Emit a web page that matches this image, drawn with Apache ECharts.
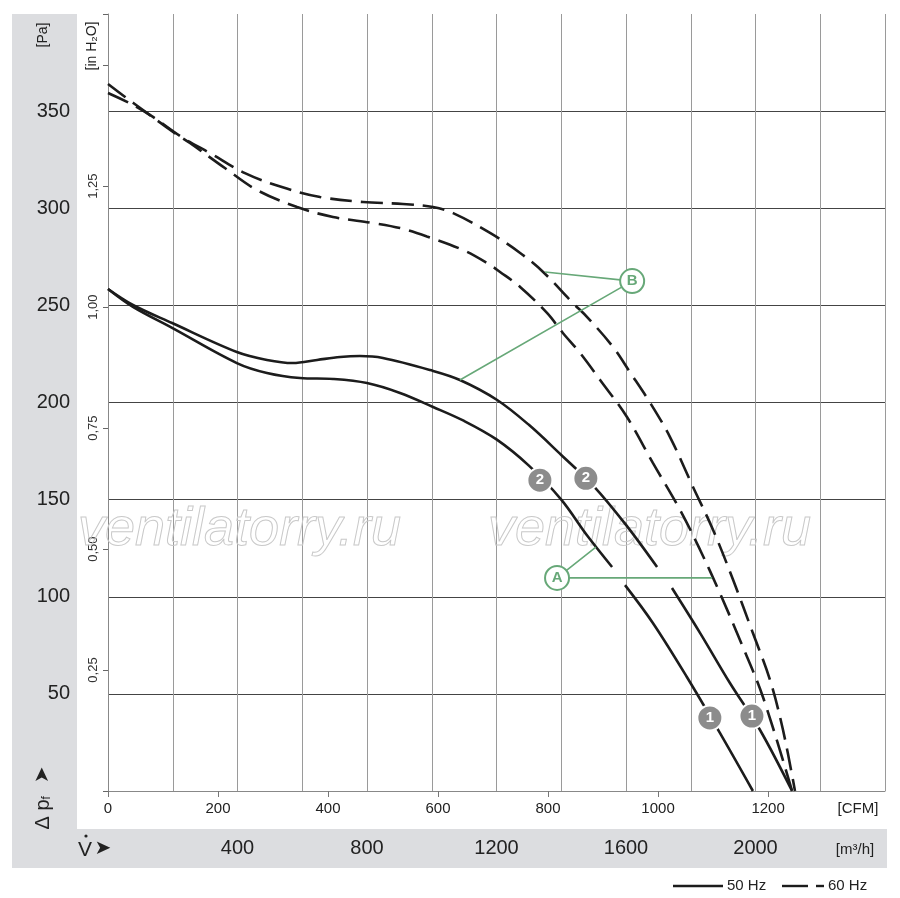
<!DOCTYPE html>
<html>
<head>
<meta charset="utf-8">
<title>Fan curve</title>
<script src="https://cdn.jsdelivr.net/npm/echarts@6/dist/echarts.min.js"></script>
<style>body{margin:0;background:#fff}</style>
</head>
<body>
<div id="main" style="width:900px;height:898px;"></div>
<script>
// flow [m3/h], pressure [Pa]; null = break in the curve
const solid50Upper = [[0,258.4],[77,250.2],[198,240.9],[398,226],[491,221.9],[571,220.3],[646,221.9],[717,223.4],[778,223.9],[849,222.9],[995,216.7],[1087,211.6],[1202,201.3],[1300,188.5],[1400,173],[1500,157],[1600,137],[1696,115.3],null,[1742,104.5],[1829,81.3],[1921,55.6],[2014,31.4],[2113,0]];
const solid50Lower = [[0,258.4],[77,249.2],[198,238.4],[398,220.3],[491,215.2],[593,212.6],[695,212.1],[800,210],[902,204.9],[1004,197.7],[1100,190.5],[1200,181],[1300,167.5],[1400,150],[1480,131.5],[1557,115.3],null,[1597,106],[1683,86.5],[1788,58.7],[1890,29.9],[1992,0]];
const dash60Outer = [[0,359.3],[77,353.2],[139,347],[232,336.2],[315,328.4],[423,318.1],[537,310.9],[655,305.8],[788,303.2],[911,302.2],[1004,300.6],[1066,297.5],[1180,287.3],[1273,277],[1344,267.2],[1436,251.2],[1480,244],[1560,228.6],[1612,215.7],[1674,200],[1736,182.2],[1807,156.5],[1869,134.4],[1931,108.6],[1992,81.3],[2045,57.1],[2085,31.4],[2122,0]];
const dash60Inner = [[0,364],[53,357.3],[108,350.6],[201,339.3],[253,333.6],[361,320.7],[460,309.4],[584,300.6],[695,295.5],[819,292.4],[902,289.8],[985,285.5],[1097,278.5],[1171,271.8],[1211,267.2],[1273,259.5],[1356,246.1],[1405,235.8],[1458,225.5],[1520,211.6],[1603,192.5],[1683,168.9],[1767,144.7],[1829,124.1],[1890,101.9],[1952,77.7],[2023,48.4],[2113,0]];

// curve badges
const badgeNames = ['2','2','1','1'];
const badgeFlow = [1334,1476,1859,1989];
const badgePress = [160,161,37.6,38.6];

// A / B callouts
const calloutNames = ['A','B'];
const calloutFlow = [1387,1619];
const calloutPress = [109.7,262.5];
const leaderA = [[1866,109.7],[1387,109.7],[1507,125.6]];
const leaderB = [[1350,267.2],[1619,262.5],[1087,211.6]];

// axes
const m3hLabels = [400,800,1200,1600,2000];
const cfmLabels = [0,200,400,600,800,1000,1200];
const paLabels = [50,100,150,200,250,300,350];
const inH2OLabels = [0.25,0.5,0.75,1,1.25];
const PA_PER_INH2O = 249.09;
const M3H_PER_CFM = 1.699;

const green = '#67a878';
const ink = '#1c1c1c';
const font = 'Liberation Sans';

const hSplitColors = ['#555','#444','#444','#444','#444','#444','#444','#444','rgba(0,0,0,0)'];

let chart = echarts.init(document.getElementById('main'));
chart.setOption({
    animation: false,
    textStyle: { fontFamily: font },
    grid: { left: 108, top: 14, width: 777, height: 777 },
    xAxis: [
        {
            type: 'value', min: 0, max: 2400, interval: 200, position: 'bottom',
            axisLine: { show: true, lineStyle: { color: '#888', width: 1 } },
            axisTick: { show: false },
            axisLabel: {
                margin: 47, fontSize: 20, color: '#222',
                formatter: v => m3hLabels.includes(v) ? String(v) : ''
            },
            splitLine: { show: true, lineStyle: { color: '#9a9a9a', width: 1 } }
        },
        {
            type: 'value', min: 0, max: 2400 / M3H_PER_CFM, position: 'bottom',
            axisLine: { show: false },
            axisTick: { show: true, length: 6, customValues: cfmLabels, lineStyle: { color: '#777' } },
            axisLabel: { margin: 10, fontSize: 15, color: '#222', customValues: cfmLabels,
                         formatter: v => String(v) },
            splitLine: { show: false }
        }
    ],
    yAxis: [
        {
            type: 'value', min: 0, max: 400, interval: 50, position: 'left',
            axisLine: { show: true, lineStyle: { color: '#888', width: 1 } },
            axisTick: { show: false },
            axisLabel: {
                margin: 38, fontSize: 20, color: '#222',
                formatter: v => paLabels.includes(v) ? String(v) : ''
            },
            splitLine: { show: true, lineStyle: { color: hSplitColors, width: 1 } }
        },
        {
            type: 'value', min: 0, max: 400 / PA_PER_INH2O, interval: 0.25, position: 'left',
            axisLine: { show: false },
            axisTick: { show: true, length: 5, lineStyle: { color: '#666' } },
            axisLabel: {
                margin: 8, fontSize: 13, color: '#333', rotate: 90,
                formatter: v => inH2OLabels.some(t => Math.abs(t - v) < 1e-6) ? v.toFixed(2).replace('.', ',') : ''
            },
            splitLine: { show: false }
        }
    ],
    series: [
        { type: 'line', data: solid50Upper, smooth: 0.35, symbol: 'none', connectNulls: false, z: 3,
          lineStyle: { color: ink, width: 2.6 } },
        { type: 'line', data: solid50Lower, smooth: 0.35, symbol: 'none', connectNulls: false, z: 3,
          lineStyle: { color: ink, width: 2.6 } },
        { type: 'line', data: dash60Outer, smooth: 0.35, symbol: 'none', z: 3,
          lineStyle: { color: ink, width: 2.6, type: [22, 9] } },
        { type: 'line', data: dash60Inner, smooth: 0.35, symbol: 'none', z: 3,
          lineStyle: { color: ink, width: 2.6, type: [22, 9] } },
        { type: 'line', data: leaderA, symbol: 'none', z: 4, lineStyle: { color: green, width: 1.6 } },
        { type: 'line', data: leaderB, symbol: 'none', z: 4, lineStyle: { color: green, width: 1.6 } },
        {
            type: 'scatter', z: 6, symbolSize: 25,
            itemStyle: { color: '#8c8c8c', borderColor: '#fff', borderWidth: 2, opacity: 1 },
            label: { show: true, position: 'inside', color: '#fff', fontSize: 15, fontWeight: 'bold',
                     formatter: p => p.name },
            data: badgeNames.map((n, i) => ({ name: n, value: [badgeFlow[i], badgePress[i]] }))
        },
        {
            type: 'scatter', z: 6, symbolSize: 24,
            itemStyle: { color: '#fff', borderColor: green, borderWidth: 2, opacity: 1 },
            label: { show: true, position: 'inside', color: green, fontSize: 15, fontWeight: 'bold',
                     formatter: p => p.name },
            data: calloutNames.map((n, i) => ({ name: n, value: [calloutFlow[i], calloutPress[i]] }))
        }
    ],
    graphic: [
        { type: 'rect', z: -10, shape: { x: 12, y: 14, width: 65, height: 815 }, style: { fill: '#dcdde0' } },
        { type: 'rect', z: -10, shape: { x: 12, y: 829, width: 875, height: 39 }, style: { fill: '#dcdde0' } },
        { type: 'text', x: 78, y: 530, z: 1, style: { text: 'ventilatorry.ru', font: 'italic 54px "Liberation Sans"',
          fill: 'rgba(255,255,255,0)', stroke: '#c9c9c9', lineWidth: 1, textVerticalAlign: 'middle' } },
        { type: 'text', x: 488, y: 530, z: 1, style: { text: 'ventilatorry.ru', font: 'italic 54px "Liberation Sans"',
          fill: 'rgba(255,255,255,0)', stroke: '#c9c9c9', lineWidth: 1, textVerticalAlign: 'middle' } },
        { type: 'text', x: 43, y: 35, rotation: Math.PI / 2, style: { text: '[Pa]', font: '14px "Liberation Sans"',
          fill: '#222', textAlign: 'center', textVerticalAlign: 'middle' } },
        { type: 'text', x: 92, y: 46, rotation: Math.PI / 2, style: { text: '[in H₂O]', font: '14px "Liberation Sans"',
          fill: '#222', textAlign: 'center', textVerticalAlign: 'middle' } },
        { type: 'text', x: 43, y: 798, rotation: Math.PI / 2, style: {
          text: '{d|Δ p}{f|f}{a|  ➤}', textAlign: 'center', textVerticalAlign: 'middle',
          rich: { d: { fontSize: 20, fontFamily: font, fill: '#222' }, f: { fontSize: 12, fontFamily: font, fill: '#222', verticalAlign: 'bottom' },
                  a: { fontSize: 20, fontFamily: 'DejaVu Sans', fill: '#222' } } } },
        { type: 'text', x: 85, y: 850, style: { text: 'V', font: '21px "Liberation Sans"', fill: '#222',
          textAlign: 'center', textVerticalAlign: 'middle' } },
        { type: 'circle', shape: { cx: 86, cy: 836, r: 1.6 }, style: { fill: '#222' } },
        { type: 'text', x: 103, y: 849, style: { text: '➤', font: '20px "DejaVu Sans"', fill: '#222',
          textAlign: 'center', textVerticalAlign: 'middle' } },
        { type: 'text', x: 858, y: 809, style: { text: '[CFM]', font: '15px "Liberation Sans"', fill: '#222',
          textAlign: 'center', textVerticalAlign: 'middle' } },
        { type: 'text', x: 855, y: 850, style: { text: '[m³/h]', font: '15px "Liberation Sans"', fill: '#222',
          textAlign: 'center', textVerticalAlign: 'middle' } },
        { type: 'line', shape: { x1: 673, y1: 886, x2: 723, y2: 886 }, style: { stroke: ink, lineWidth: 2.4 } },
        { type: 'text', x: 727, y: 886, style: { text: '50 Hz', font: '15px "Liberation Sans"', fill: '#222',
          textVerticalAlign: 'middle' } },
        { type: 'line', shape: { x1: 782, y1: 886, x2: 808, y2: 886 }, style: { stroke: ink, lineWidth: 2.4 } },
        { type: 'line', shape: { x1: 816, y1: 886, x2: 824, y2: 886 }, style: { stroke: ink, lineWidth: 2.4 } },
        { type: 'text', x: 828, y: 886, style: { text: '60 Hz', font: '15px "Liberation Sans"', fill: '#222',
          textVerticalAlign: 'middle' } }
    ]
});
</script>
</body>
</html>
